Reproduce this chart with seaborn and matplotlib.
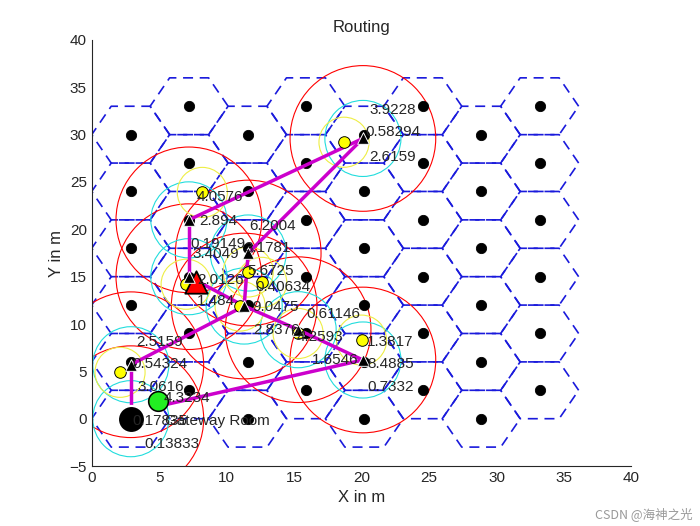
import numpy as np
import pandas as pd
import matplotlib
matplotlib.use("Agg")
import matplotlib.pyplot as plt
import seaborn as sns

sns.set_style("white")
plt.rcParams['font.family'] = ['Liberation Sans', 'DejaVu Sans']

# hex grid (cell centres)
col_x = [2.89, 7.22, 11.55, 15.88, 20.21, 24.54, 28.87, 33.2]
even_rows = [0, 6, 12, 18, 24, 30]
odd_rows = [3, 9, 15, 21, 27, 33]
hex_a, hex_h = 2.89, 3.0

# routers on the path
router_name = ["sink", "A", "B", "D", "C", "E", "F", "H", "G"]
router_x = [2.9, 2.9, 11.3, 15.3, 20.1, 7.2, 7.2, 11.6, 20.1]
router_y = [0.0, 5.7, 11.9, 9.4, 6.2, 15.0, 21.0, 17.5, 29.6]

# sensor nodes
sensor_x = [8.2, 18.7, 7.0, 11.6, 12.6, 15.3, 20.0, 2.1, 11.0]
sensor_y = [23.9, 29.2, 14.2, 15.5, 14.4, 9.0, 8.3, 4.9, 11.9]
green_x, green_y = [4.9], [1.9]

# routing edges
edges = [("sink", "A"), ("A", "B"), ("B", "D"), ("D", "C"), ("E", "B"),
         ("E", "F"), ("F", "G"), ("H", "G"), ("H", "B")]
green_edge = [(4.9, 1.3), (20.1, 6.2)]

label_txt = ["3.9228", "0.58294", "2.6159", "4.0576", "2.894", "6.2004", "0.19149",
             "3.1781", "3.4049", "5.6725", "2.0126", "0.40634", "1.484", "9.0475",
             "0.61146", "2.8376", "4.2593", "1.3817", "1.6546", "8.4885", "0.7332",
             "2.5159", "0.54324", "3.0616", "4.3234", "0.17835", "Gateway Room", "0.13833"]
label_x = [20.6, 20.3, 20.6, 7.8, 8.0, 11.7, 7.3, 11.3, 7.5, 11.5, 7.8, 12.1, 7.8, 11.9,
           15.9, 12.0, 15.2, 20.4, 16.3, 20.4, 20.4, 3.3, 3.0, 3.4, 5.3, 3.0, 5.4, 3.9]
label_y = [32.6, 30.3, 27.6, 23.4, 20.9, 20.3, 18.4, 18.0, 17.4, 15.6, 14.6, 13.9, 12.4,
           11.8, 11.1, 9.4, 8.6, 8.1, 6.2, 5.8, 3.3, 8.1, 5.8, 3.3, 2.2, -0.2, -0.2, -2.7]

fig = plt.figure(figsize=(7, 5.26), dpi=100)
ax = fig.add_axes([0.131, 0.114, 0.771, 0.81])

# hexagons
vx = np.array([1, 0.5, -0.5, -1, -0.5, 0.5, 1]) * hex_a
vy = np.array([0, 1, 1, 0, -1, -1, 0]) * hex_h
cx, cy = [], []
for i, x in enumerate(col_x):
    for y in (even_rows if i % 2 == 0 else odd_rows):
        cx.append(x)
        cy.append(y)
        ax.plot(x + vx, y + vy, color="#1a1adc", ls=(0, (6, 4)), lw=1.2, zorder=1)
sns.scatterplot(x=cx, y=cy, color="black", s=55, ax=ax, zorder=3, edgecolor="black")

rx = dict(zip(router_name, router_x))
ry = dict(zip(router_name, router_y))

# coverage rings
sns.scatterplot(x=router_x, y=router_y, s=11000, facecolor="none", edgecolor="red",
                linewidth=0.8, ax=ax, zorder=2)
sns.scatterplot(x=router_x, y=router_y, s=3000, facecolor="none", edgecolor="#22dddd",
                linewidth=0.8, ax=ax, zorder=2)
sns.scatterplot(x=sensor_x, y=sensor_y, s=1300, facecolor="none", edgecolor="#eeee44",
                linewidth=0.8, ax=ax, zorder=2)

# routing lines
for a, b in edges:
    ax.plot([rx[a], rx[b]], [ry[a], ry[b]], color="#cc00cc", lw=2.5, zorder=4)
ax.plot([p[0] for p in green_edge], [p[1] for p in green_edge], color="#cc00cc", lw=2.5, zorder=4)

sns.scatterplot(x=sensor_x, y=sensor_y, color="yellow", edgecolor="black", s=70, ax=ax, zorder=5)
sns.scatterplot(x=green_x, y=green_y, color="#22ee22", edgecolor="black", s=200, ax=ax, zorder=5)
sns.scatterplot(x=router_x[1:], y=router_y[1:], marker="^", color="black", s=70, ax=ax, zorder=6)
sns.scatterplot(x=[7.7], y=[14.4], marker="^", color="red", edgecolor="black", s=260, ax=ax, zorder=5)
sns.scatterplot(x=router_x[:1], y=router_y[:1], color="black", s=380, ax=ax, zorder=6)

for t, x, y in zip(label_txt, label_x, label_y):
    ax.text(x, y, t, fontsize=11, ha="left", va="center", zorder=7)

ax.set_xlim(0, 40)
ax.set_ylim(-5, 40)
ax.set_xticks(range(0, 41, 5))
ax.set_yticks(range(-5, 41, 5))
ax.set_title("Routing", fontsize=12)
ax.set_xlabel("X in m", fontsize=12)
ax.set_ylabel("Y in m", fontsize=12)
ax.tick_params(direction="in", length=4, labelsize=11)
for s in ["top", "right"]:
    ax.spines[s].set_visible(False)
fig.text(0.99, 0.01, "CSDN @海神之光", ha="right", va="bottom", fontsize=9, color="#999999",
         family=["Noto Sans CJK SC", "DejaVu Sans"])
fig.savefig("out.png", dpi=100)
